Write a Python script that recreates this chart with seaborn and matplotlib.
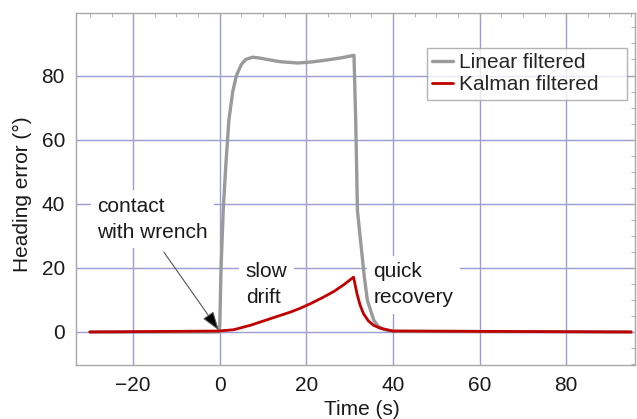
import numpy as np
import pandas as pd
import seaborn as sns
from matplotlib import pyplot as plt
from matplotlib.ticker import MultipleLocator

# values
linear_t = [-30, -0.3, 0, 0.3, 0.8, 1.4, 2.1, 3.0, 3.85, 5, 6, 7.5, 9, 11, 14, 18, 21, 24, 28,
            31, 31.4, 31.8, 32.6, 33.4, 34.1, 35.6, 36.6, 37.9, 40, 95]
linear_v = [0, 0, 2, 20, 38, 52, 66, 75, 80, 83.5, 85, 85.7, 85.5, 85.0, 84.3, 83.9, 84.2, 84.7, 85.5,
            86.3, 66, 37.8, 27.4, 17, 9.8, 3.6, 1.8, 0.8, 0.2, 0]

kalman_t = [-30, -0.2, 3.2, 7.1, 10.9, 13.6, 16.3, 18.6, 20.9, 24, 26.3, 28.5, 30.9,
            31.7, 32.4, 33.2, 34.3, 35.5, 37, 38.6, 40, 95]
kalman_v = [0, 0.3, 0.7, 2.1, 3.8, 5.0, 6.2, 7.4, 8.8, 10.9, 12.6, 14.6, 17.1,
            11.9, 8.4, 5.7, 3.5, 2.1, 1.2, 0.7, 0.3, 0]

series_names = ["Linear filtered", "Kalman filtered"]
series_colors = ["#9a9a9a", "#c00000"]

df = pd.concat([
    pd.DataFrame({"t": linear_t, "v": linear_v, "series": series_names[0]}),
    pd.DataFrame({"t": kalman_t, "v": kalman_v, "series": series_names[1]}),
])

sns.set_style("white")
plt.rcParams["font.family"] = ["Liberation Sans", "DejaVu Sans"]

fig = plt.figure(figsize=(6.37, 4.19), dpi=100)
ax = fig.add_axes([76 / 637, 54 / 419, 559 / 637, 352 / 419])

for name, color, lw in zip(series_names, series_colors, [2.4, 2.0]):
    sns.lineplot(data=df[df.series == name], x="t", y="v", color=color, lw=lw,
                 sort=False, estimator=None, label=name, ax=ax, zorder=4)

ax.set_xlim(-33.2, 95.9)
ax.set_ylim(-10.3, 99.5)
ax.xaxis.set_major_locator(MultipleLocator(20))
ax.xaxis.set_minor_locator(MultipleLocator(5))
ax.yaxis.set_major_locator(MultipleLocator(20))
ax.yaxis.set_minor_locator(MultipleLocator(5))
ax.grid(True, which="major", color="#9c9cd2", lw=1.0, zorder=1)
ax.set_axisbelow(True)

for s in ax.spines.values():
    s.set_color("#a8a8a8")
    s.set_linewidth(1.0)
ax.tick_params(which="both", direction="in", top=True, right=True, colors="#a8a8a8",
               labelcolor="#1a1a1a", labelsize=15)
ax.tick_params(which="major", length=4, pad=8)
ax.tick_params(which="minor", length=3)

ax.set_xlabel("Time (s)", fontsize=15, color="#1a1a1a")
ax.set_ylabel("Heading error (°)", fontsize=15, color="#1a1a1a")
ax.xaxis.set_label_coords(0.512, -0.10)
ax.yaxis.set_label_coords(-0.079, 0.486)

box = dict(boxstyle="square,pad=0.3", facecolor="white", edgecolor="none")
ax.text(-28.4, 35.1, "contact\nwith wrench", fontsize=15, ha="left", va="center",
        linespacing=1.5, bbox=box, zorder=3, color="#1a1a1a")
ax.text(6.0, 14.8, "slow\ndrift", fontsize=15, ha="left", va="center",
        linespacing=1.5, bbox=box, zorder=3, color="#1a1a1a")
ax.text(35.5, 14.8, "quick\nrecovery", fontsize=15, ha="left", va="center",
        linespacing=1.5, bbox=box, zorder=3, color="#1a1a1a")
ax.annotate("", xy=(-0.2, 0.5), xytext=(-12.9, 24.9),
            arrowprops=dict(arrowstyle="-|>,head_length=0.9,head_width=0.3",
                            facecolor="black", edgecolor="#555555", lw=0.8,
                            mutation_scale=13, shrinkA=0, shrinkB=0), zorder=5)

leg = ax.legend(loc="upper left", bbox_to_anchor=(0.628, 0.75, 0.358, 0.1506), mode="expand",
                borderaxespad=0, fontsize=15, frameon=True, fancybox=False, edgecolor="#a0a0a0",
                handlelength=1.0, handletextpad=0.3, labelspacing=0.15, borderpad=0.25)
leg.get_frame().set_linewidth(1.0)
leg.set_zorder(6)

fig.savefig("out.png", dpi=100)
